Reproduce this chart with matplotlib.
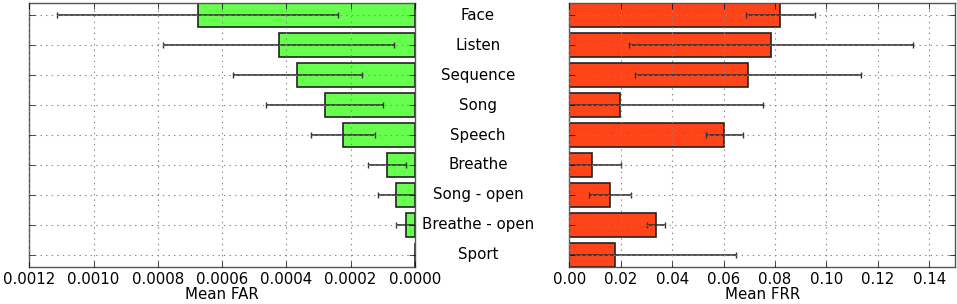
import matplotlib
matplotlib.use('Agg')
import matplotlib.pyplot as plt
import numpy as np

categories = ['Face', 'Listen', 'Sequence', 'Song', 'Speech', 'Breathe',
              'Song - open', 'Breathe - open', 'Sport']

far_mean = [0.000676, 0.000424, 0.000366, 0.000281, 0.000225, 0.000086,
            0.000058, 0.000029, 0.0]
far_err = [0.000438, 0.000360, 0.000200, 0.000182, 0.000100, 0.000059,
           0.000057, 0.000029, 0.0]

frr_mean = [0.0821, 0.0784, 0.0695, 0.0197, 0.0603, 0.0087, 0.0159, 0.0338, 0.0176]
frr_err = [0.0133, 0.0551, 0.0441, 0.0555, 0.0073, 0.0113, 0.0081, 0.0035, 0.0472]

far_ticks = [0.0012, 0.0010, 0.0008, 0.0006, 0.0004, 0.0002, 0.0]
frr_ticks = [0.00, 0.02, 0.04, 0.06, 0.08, 0.10, 0.12, 0.14]

plt.style.use('classic')
plt.rcParams['font.family'] = ['DejaVu Sans']
plt.rcParams['font.size'] = 10.8

fig = plt.figure(figsize=(9.57, 3.04), dpi=100, facecolor='white')
ax1 = fig.add_axes([0.0306, 0.1227, 0.403, 0.866])
ax2 = fig.add_axes([0.5949, 0.1227, 0.403, 0.866])

y = np.arange(len(categories))
err_kw = dict(ecolor='#333333', capsize=2, elinewidth=1.2, capthick=1)

ax1.barh(y, far_mean, height=0.8, xerr=far_err, color='#66ff4d',
         edgecolor='#222222', linewidth=1.2, align='center', error_kw=err_kw)
ax1.set_xlim(0.0012, 0.0)
ax1.set_xticks(far_ticks)
ax1.set_xticklabels(['%.4f' % t for t in far_ticks])
ax1.set_xlabel('Mean FAR', labelpad=0)

ax2.barh(y, frr_mean, height=0.8, xerr=frr_err, color='#ff4419',
         edgecolor='#222222', linewidth=1.2, align='center', error_kw=err_kw)
ax2.set_xlim(0.0, 0.15)
ax2.set_xticks(frr_ticks)
ax2.set_xticklabels(['%.2f' % t for t in frr_ticks])
ax2.set_xlabel('Mean FRR', labelpad=0)

for ax in (ax1, ax2):
    ax.set_ylim(len(categories) - 0.6, -0.4)
    ax.set_yticks(y)
    ax.set_yticklabels([])
    ax.grid(True, linestyle=':', color='#888888', linewidth=0.8)
    ax.set_axisbelow(False)
    for s in ax.spines.values():
        s.set_color('#555555')
    ax.tick_params(labelsize=10.8)

# category names centred in the gap between the panels
for yi, name in zip(y, categories):
    ax1.annotate(name, xy=(1.0, yi), xycoords=('axes fraction', 'data'),
                 xytext=(63, 0), textcoords='offset pixels',
                 ha='center', va='center', fontsize=10.8)

plt.savefig('out.png', dpi=100, facecolor='white')
